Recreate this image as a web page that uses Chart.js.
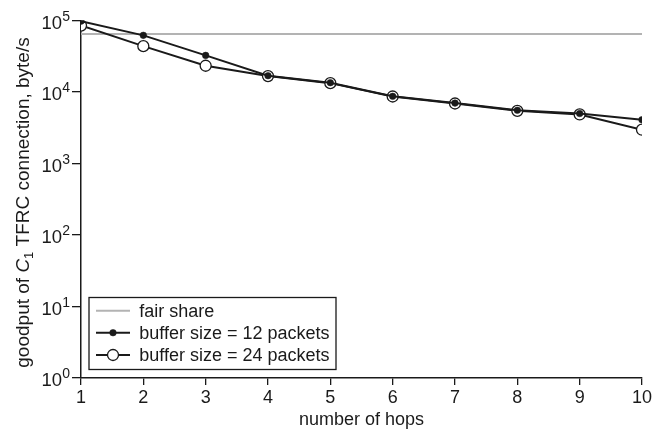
<!DOCTYPE html>
<html><head><meta charset="utf-8">
<script src="https://cdn.jsdelivr.net/npm/chart.js@4.4.1/dist/chart.umd.min.js"></script>
<style>html,body{margin:0;padding:0;background:#fff}canvas{display:block}</style>
</head><body>
<canvas id="c" width="662" height="429"></canvas>
<script>
const hops = [1, 2, 3, 4, 5, 6, 7, 8, 9, 10];
const fairShare = [65000, 65000, 65000, 65000, 65000, 65000, 65000, 65000, 65000, 65000];
const buffer12 = [98000, 62000, 32500, 16900, 13500, 8700, 7000, 5550, 5000, 4100];
const buffer24 = [85000, 43800, 23300, 16700, 13300, 8650, 6900, 5450, 4850, 2970];
const yTickValues = [1, 10, 100, 1000, 10000, 100000];
const yTickBase = '10';
const yTickExponents = ['0', '1', '2', '3', '4', '5'];
const seriesLabels = ['fair share', 'buffer size = 12 packets', 'buffer size = 24 packets'];
const xTitle = 'number of hops';
const yTitleParts = ['goodput of ', 'C', '1', ' TFRC connection, byte/s'];

const FONT = '"Liberation Sans", Arial, Helvetica, sans-serif';
const INK = '#1a1a1a';
const GRAY = '#b3b3b3';

const pts = arr => arr.map((v, i) => ({ x: hops[i], y: v }));

const extras = {
  id: 'extras',
  afterDraw(chart) {
    const ctx = chart.ctx;
    const ys = chart.scales.y;
    ctx.save();
    ctx.fillStyle = INK;
    // y tick labels with superscript exponents
    yTickValues.forEach((v, i) => {
      const py = ys.getPixelForValue(v);
      ctx.font = '18.5px ' + FONT;
      ctx.textAlign = 'right';
      ctx.textBaseline = 'alphabetic';
      ctx.fillText(yTickBase, 62, py + 8.2);
      ctx.font = '14px ' + FONT;
      ctx.textAlign = 'left';
      ctx.fillText(yTickExponents[i], 62.3, py + 0.3);
    });
    // y title (rotated, italic C with subscript 1)
    ctx.save();
    ctx.translate(29, 202.5);
    ctx.rotate(-Math.PI / 2);
    const fonts = ['19px ' + FONT, 'italic 19px ' + FONT, '13px ' + FONT, '19px ' + FONT];
    const dys = [0, 0, 4, 0];
    let total = 0;
    const widths = yTitleParts.map((t, i) => { ctx.font = fonts[i]; const w = ctx.measureText(t).width; total += w; return w; });
    let x = -total / 2;
    ctx.textAlign = 'left';
    ctx.textBaseline = 'alphabetic';
    yTitleParts.forEach((t, i) => {
      ctx.font = fonts[i];
      ctx.fillText(t, x, dys[i]);
      x += widths[i];
    });
    ctx.restore();

    // legend box
    const bx = 89, by = 297.5, bw = 247, bh = 72;
    ctx.fillStyle = '#fff';
    ctx.fillRect(bx, by, bw, bh);
    ctx.strokeStyle = INK;
    ctx.lineWidth = 1.3;
    ctx.strokeRect(bx, by, bw, bh);
    const rows = [310.7, 332.7, 355];
    const ds = chart.data.datasets;
    rows.forEach((ry, i) => {
      const d = ds[i];
      ctx.strokeStyle = d.borderColor;
      ctx.lineWidth = d.borderWidth;
      ctx.beginPath();
      ctx.moveTo(96, ry);
      ctx.lineTo(130, ry);
      ctx.stroke();
      if (d.pointRadius > 0) {
        ctx.beginPath();
        ctx.arc(113, ry, d.pointRadius, 0, Math.PI * 2);
        ctx.fillStyle = d.pointBackgroundColor;
        ctx.fill();
        ctx.lineWidth = d.pointBorderWidth;
        ctx.strokeStyle = d.pointBorderColor;
        ctx.stroke();
      }
      ctx.fillStyle = INK;
      ctx.font = '18px ' + FONT;
      ctx.textAlign = 'left';
      ctx.textBaseline = 'alphabetic';
      ctx.fillText(d.label, 139.3, ry + 6.2);
    });
    ctx.restore();
  }
};

new Chart(document.getElementById('c'), {
  type: 'line',
  data: {
    datasets: [
      { label: seriesLabels[0], data: pts(fairShare), borderColor: GRAY, borderWidth: 2, pointRadius: 0, order: 3 },
      { label: seriesLabels[1], data: pts(buffer12), borderColor: INK, borderWidth: 2, pointRadius: 3.3,
        pointBackgroundColor: INK, pointBorderColor: INK, pointBorderWidth: 0.5, order: 1 },
      { label: seriesLabels[2], data: pts(buffer24), borderColor: INK, borderWidth: 2, pointRadius: 5.5,
        pointBackgroundColor: '#fff', pointBorderColor: INK, pointBorderWidth: 1.3, order: 2 }
    ]
  },
  options: {
    responsive: false,
    animation: false,
    layout: { padding: { left: 0, right: 20, top: 20.5, bottom: 0 } },
    plugins: { legend: { display: false }, tooltip: { enabled: false } },
    elements: { line: { tension: 0 } },
    scales: {
      x: {
        type: 'linear', min: 1, max: 10,
        afterBuildTicks: s => { s.ticks = hops.map(v => ({ value: v })); },
        afterFit: s => { s.height = 51; },
        ticks: { font: { family: FONT, size: 18 }, color: INK, padding: 2, maxRotation: 0 },
        grid: { drawOnChartArea: false, drawTicks: true, tickLength: 7, color: INK, lineWidth: 1.3 },
        border: { display: true, color: INK, width: 1.5 },
        title: { display: true, text: xTitle, font: { family: FONT, size: 18 }, color: INK, padding: { top: 0, bottom: -1.5 } }
      },
      y: {
        type: 'logarithmic', min: 1, max: 100000,
        afterBuildTicks: s => { s.ticks = yTickValues.map(v => ({ value: v })); },
        afterFit: s => { s.width = 81; },
        ticks: { display: false },
        grid: { drawOnChartArea: false, drawTicks: true, tickLength: 9, color: INK, lineWidth: 1.3 },
        border: { display: true, color: INK, width: 1.5 }
      }
    }
  },
  plugins: [extras]
});
</script>
</body></html>
